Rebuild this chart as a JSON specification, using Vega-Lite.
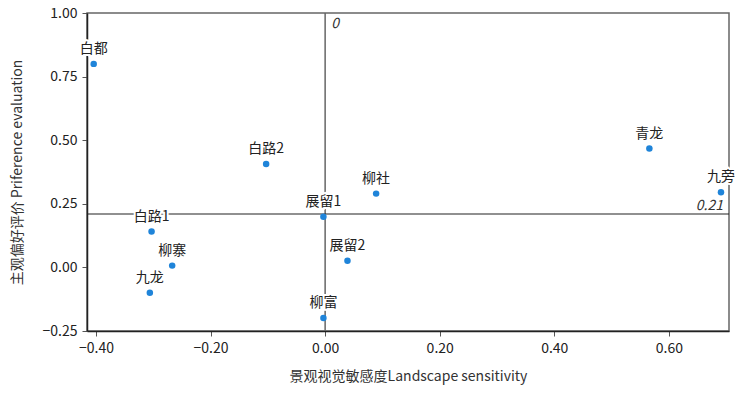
{
  "$schema": "https://vega.github.io/schema/vega-lite/v6.json",
  "autosize": {"type": "none"},
  "padding": {"left": 87, "top": 13, "right": 9, "bottom": 62},
  "width": 642,
  "height": 318,
  "config": {
    "font": "Noto Sans CJK SC",
    "view": {"stroke": "#666666", "strokeWidth": 1.5},
    "axis": {"grid": false, "labelFont": "Noto Sans CJK SC", "titleFont": "Noto Sans CJK SC", "labelFontSize": 14, "titleFontSize": 14, "labelColor": "#222222", "titleColor": "#333333", "titleFontWeight": "normal", "domainColor": "#222222", "domainWidth": 1.5, "tickColor": "#555555", "tickSize": 5}
  },
  "datasets": {
    "pts": [
      {"name": "白都", "x": -0.404, "y": 0.80},
      {"name": "白路2", "x": -0.103, "y": 0.406},
      {"name": "展留1", "x": -0.003, "y": 0.199},
      {"name": "白路1", "x": -0.303, "y": 0.141},
      {"name": "柳寨", "x": -0.267, "y": 0.007},
      {"name": "九龙", "x": -0.306, "y": -0.10},
      {"name": "柳富", "x": -0.003, "y": -0.199},
      {"name": "展留2", "x": 0.039, "y": 0.026},
      {"name": "柳社", "x": 0.089, "y": 0.29},
      {"name": "青龙", "x": 0.566, "y": 0.467},
      {"name": "九旁", "x": 0.691, "y": 0.295}
    ],
    "vref": [{"x": 0, "y": 1.0, "label": "0"}],
    "href": [{"x": 0.705, "y": 0.21, "label": "0.21"}]
  },
  "layer": [
    {
      "data": {"name": "vref"},
      "mark": {"type": "rule", "color": "#666666", "strokeWidth": 1.5},
      "encoding": {"x": {"field": "x", "type": "quantitative"}}
    },
    {
      "data": {"name": "href"},
      "mark": {"type": "rule", "color": "#222222", "strokeWidth": 1.2},
      "encoding": {"y": {"field": "y", "type": "quantitative"}}
    },
    {
      "data": {"name": "vref"},
      "mark": {"type": "text", "fontStyle": "italic", "fontSize": 14, "align": "left", "baseline": "top", "dx": 6, "dy": 4, "color": "#333333"},
      "encoding": {"x": {"field": "x", "type": "quantitative"}, "y": {"field": "y", "type": "quantitative"}, "text": {"field": "label"}}
    },
    {
      "data": {"name": "href"},
      "mark": {"type": "text", "fontStyle": "italic", "fontSize": 14, "align": "right", "baseline": "bottom", "dx": -6, "dy": -1, "color": "#333333"},
      "encoding": {"x": {"field": "x", "type": "quantitative"}, "y": {"field": "y", "type": "quantitative"}, "text": {"field": "label"}}
    },
    {
      "data": {"name": "pts"},
      "mark": {"type": "point", "filled": true, "opacity": 1, "size": 42, "color": "#1f84d9"},
      "encoding": {
        "x": {"field": "x", "type": "quantitative", "scale": {"domain": [-0.4157, 0.705], "nice": false, "zero": false},
          "axis": {"values": [-0.4, -0.2, 0, 0.2, 0.4, 0.6], "format": ".2f", "title": "景观视觉敏感度Landscape sensitivity", "labelPadding": 5, "titlePadding": 14}},
        "y": {"field": "y", "type": "quantitative", "scale": {"domain": [-0.25, 1.0], "nice": false, "zero": false},
          "axis": {"values": [-0.25, 0, 0.25, 0.5, 0.75, 1.0], "format": ".2f", "title": "主观偏好评价 Priference evaluation", "labelPadding": 5, "titlePadding": 18}}
      }
    },
    {
      "data": {"name": "pts"},
      "mark": {"type": "text", "fontSize": 14, "baseline": "bottom", "dy": -8, "stroke": "white", "strokeWidth": 4, "color": "white"},
      "encoding": {"x": {"field": "x", "type": "quantitative"}, "y": {"field": "y", "type": "quantitative"}, "text": {"field": "name"}}
    },
    {
      "data": {"name": "pts"},
      "mark": {"type": "text", "fontSize": 14, "baseline": "bottom", "dy": -8, "color": "#222222"},
      "encoding": {"x": {"field": "x", "type": "quantitative"}, "y": {"field": "y", "type": "quantitative"}, "text": {"field": "name"}}
    }
  ]
}
